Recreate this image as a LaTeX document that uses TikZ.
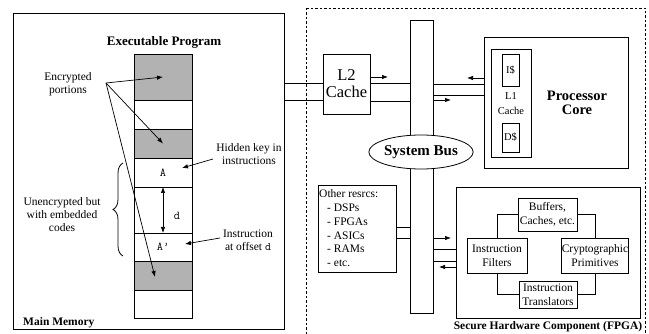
\documentclass[tikz,border=0pt]{standalone}
\usepackage{fontspec}
\setmainfont{Liberation Serif}
\usetikzlibrary{arrows.meta,decorations.pathreplacing,shapes.geometric}
\begin{document}
\begin{tikzpicture}[x=1pt,y=-1pt,
  box/.style={draw, line width=0.8pt, inner sep=0pt, outer sep=0pt, align=center, font=\fontsize{11.5}{13.5}\selectfont},
  cell/.style={box, minimum width=58pt, font=\ttfamily\fontsize{12}{12}\selectfont},
  grey/.style={fill=black!30},
  tx/.style={inner sep=0pt, align=center, font=\fontsize{11.5}{13}\selectfont},
  btx/.style={inner sep=0pt, align=center, font=\bfseries\fontsize{12}{14}\selectfont},
  arr/.style={-{Latex[length=6pt,width=4.5pt]}, line width=0.7pt},
  ln/.style={line width=0.8pt}]
\useasboundingbox (0,0) rectangle (649,334);
% ---------- main memory
\node[box, line width=1pt, minimum width=271pt, minimum height=316pt] (mm) at (148.5,172) {};
\node[btx, font=\bfseries\fontsize{13}{15}\selectfont] (ep) at (164,42) {Executable Program};
\node[cell, grey, minimum height=46pt] (c1) at (163,77) {};
\node[cell, minimum height=29pt] (c2) at (163,114.5) {};
\node[cell, grey, minimum height=29pt] (c3) at (163,143.5) {};
\node[cell, minimum height=29pt] (c4) at (163,172.5) {A};
\node[cell, minimum height=46pt] (c5) at (163,210) {};
\node[cell, minimum height=28pt] (c6) at (163,247) {A\textquoteright};
\node[cell, grey, minimum height=29pt] (c7) at (163,275.5) {};
\node[cell, minimum height=28pt] (c8) at (163,304) {};
\draw[{Latex[length=6pt,width=4.5pt]}-{Latex[length=6pt,width=4.5pt]}, line width=0.7pt] (c5.north) -- (c5.south);
\node[tx, font=\ttfamily\fontsize{12}{12}\selectfont] (dl) at (177,216) {d};
\node[tx] (enc) at (68,84) {Encrypted\\portions};
\coordinate (eo) at (106,83);
\coordinate (e3) at (155,277);
\draw[arr] (eo) -- (c1.center);
\draw[arr] (eo) -- (c3.center);
\draw[arr] (eo) -- (e3);
\node[tx] (hk) at (249,154) {Hidden key in\\instructions};
\coordinate (hks) at (213,159);
\coordinate (hke) at (182,168);
\draw[arr] (hks) -- (hke);
\node[tx] (io) at (248,240) {Instruction\\at offset {\ttfamily d}};
\coordinate (ios) at (220,238);
\coordinate (ioe) at (185,244);
\draw[arr] (ios) -- (ioe);
\draw[ln, decorate, decoration={brace, amplitude=10pt}] (123,256) -- (123,163);
\node[tx] (une) at (62,215) {Unencrypted but\\with embedded\\codes};
\node[btx, anchor=west, font=\bfseries\fontsize{11.5}{13}\selectfont] (mml) at (23,323) {Main Memory};
% ---------- secure component
\draw[line width=0.8pt, dash pattern=on 2.5pt off 2pt] (306,8) -- (645,8) -- (645,345) (306,8) -- (306,345);
\node[box, minimum width=47pt, minimum height=60pt, font=\fontsize{16.5}{17}\selectfont] (l2) at (346.5,84) {L2\\Cache};
\draw[ln] (mm.east |- 0,83) -- (l2.west |- 0,83);
\draw[ln] (mm.east |- 0,100) -- (l2.west |- 0,100);
\node[box, minimum width=23pt, minimum height=293pt] (bus) at (421.5,166.5) {};
\draw[ln] (l2.east |- 0,83) -- (bus.west |- 0,83);
\draw[ln] (l2.east |- 0,101) -- (bus.west |- 0,101);
\coordinate (a1) at (388,77);
\draw[arr] (l2.east |- 0,77) -- (a1);
\node[box, fill=white, ellipse, minimum width=102pt, minimum height=34pt, font=\bfseries\fontsize{15}{16}\selectfont] (sb) at (421,152) {System Bus};
\node[box, minimum width=144pt, minimum height=131pt] (pc) at (556,102.5) {};
\node[box, minimum width=40pt, minimum height=108pt] (l1) at (511,103) {};
\node[box, minimum width=17pt, minimum height=32pt, font=\fontsize{10.5}{12}\selectfont] (ic) at (510.5,70) {I\$};
\node[box, minimum width=17pt, minimum height=29pt, font=\fontsize{10.5}{12}\selectfont] (dc) at (510.5,137.5) {D\$};
\node[tx, font=\fontsize{10.5}{15}\selectfont] (l1t) at (511,104) {L1\\Cache};
\node[btx, font=\bfseries\fontsize{14.5}{14}\selectfont] (pct) at (577,103) {Processor\\Core};
\draw[ln] (bus.east |- 0,84) -- (pc.west |- 0,84);
\draw[ln] (bus.east |- 0,95) -- (pc.west |- 0,95);
\coordinate (a2) at (467,78);
\draw[arr] (pc.west |- 0,78) -- (a2);
\coordinate (a3) at (451,100);
\draw[arr] (bus.east |- 0,100) -- (a3);
% other resources
\node[box, minimum width=78pt, minimum height=87pt] (or) at (357,228.5) {};
\node[tx, align=left, anchor=north west, font=\fontsize{11.5}{13.8}\selectfont] (ort) at (319,189.5) {Other resrcs:\\\hspace*{8pt}- DSPs\\\hspace*{8pt}- FPGAs\\\hspace*{8pt}- ASICs\\\hspace*{8pt}- RAMs\\\hspace*{8pt}- etc.};
\draw[ln] (or.east |- 0,227) -- (bus.west |- 0,227);
\draw[ln] (or.east |- 0,238) -- (bus.west |- 0,238);
% secure hardware box
\node[box, minimum width=184pt, minimum height=131pt] (sh) at (548,252.5) {};
\draw[ln] (bus.east |- 0,249) -- (sh.west |- 0,249);
\draw[ln] (bus.east |- 0,261) -- (sh.west |- 0,261);
\coordinate (a4) at (451,238);
\draw[arr] (bus.east |- 0,238) -- (a4);
\coordinate (a5) at (439,267);
\draw[arr] (sh.west |- 0,267) -- (a5);
\node[box, fill=white, minimum width=59pt, minimum height=33pt] (buf) at (547.5,214.5) {Buffers,\\Caches, etc.};
\node[box, fill=white, minimum width=60pt, minimum height=35pt] (fil) at (497,255.5) {Instruction\\Filters};
\node[box, fill=white, minimum width=60pt, minimum height=35pt] (cry) at (595,255.5) {Cryptographic\\Primitives};
\node[box, fill=white, minimum width=58pt, minimum height=27pt] (tra) at (548,294.5) {Instruction\\Translators};
\draw[ln] (buf.west) -| (fil.north);
\draw[ln] (fil.south) |- (tra.west);
\draw[ln] (tra.east) -| (cry.south);
\draw[ln] (cry.north) |- (buf.east);
\node[btx, font=\bfseries\fontsize{11.5}{13}\selectfont] (shl) at (548,327) {Secure Hardware Component (FPGA)};
\end{tikzpicture}
\end{document}
